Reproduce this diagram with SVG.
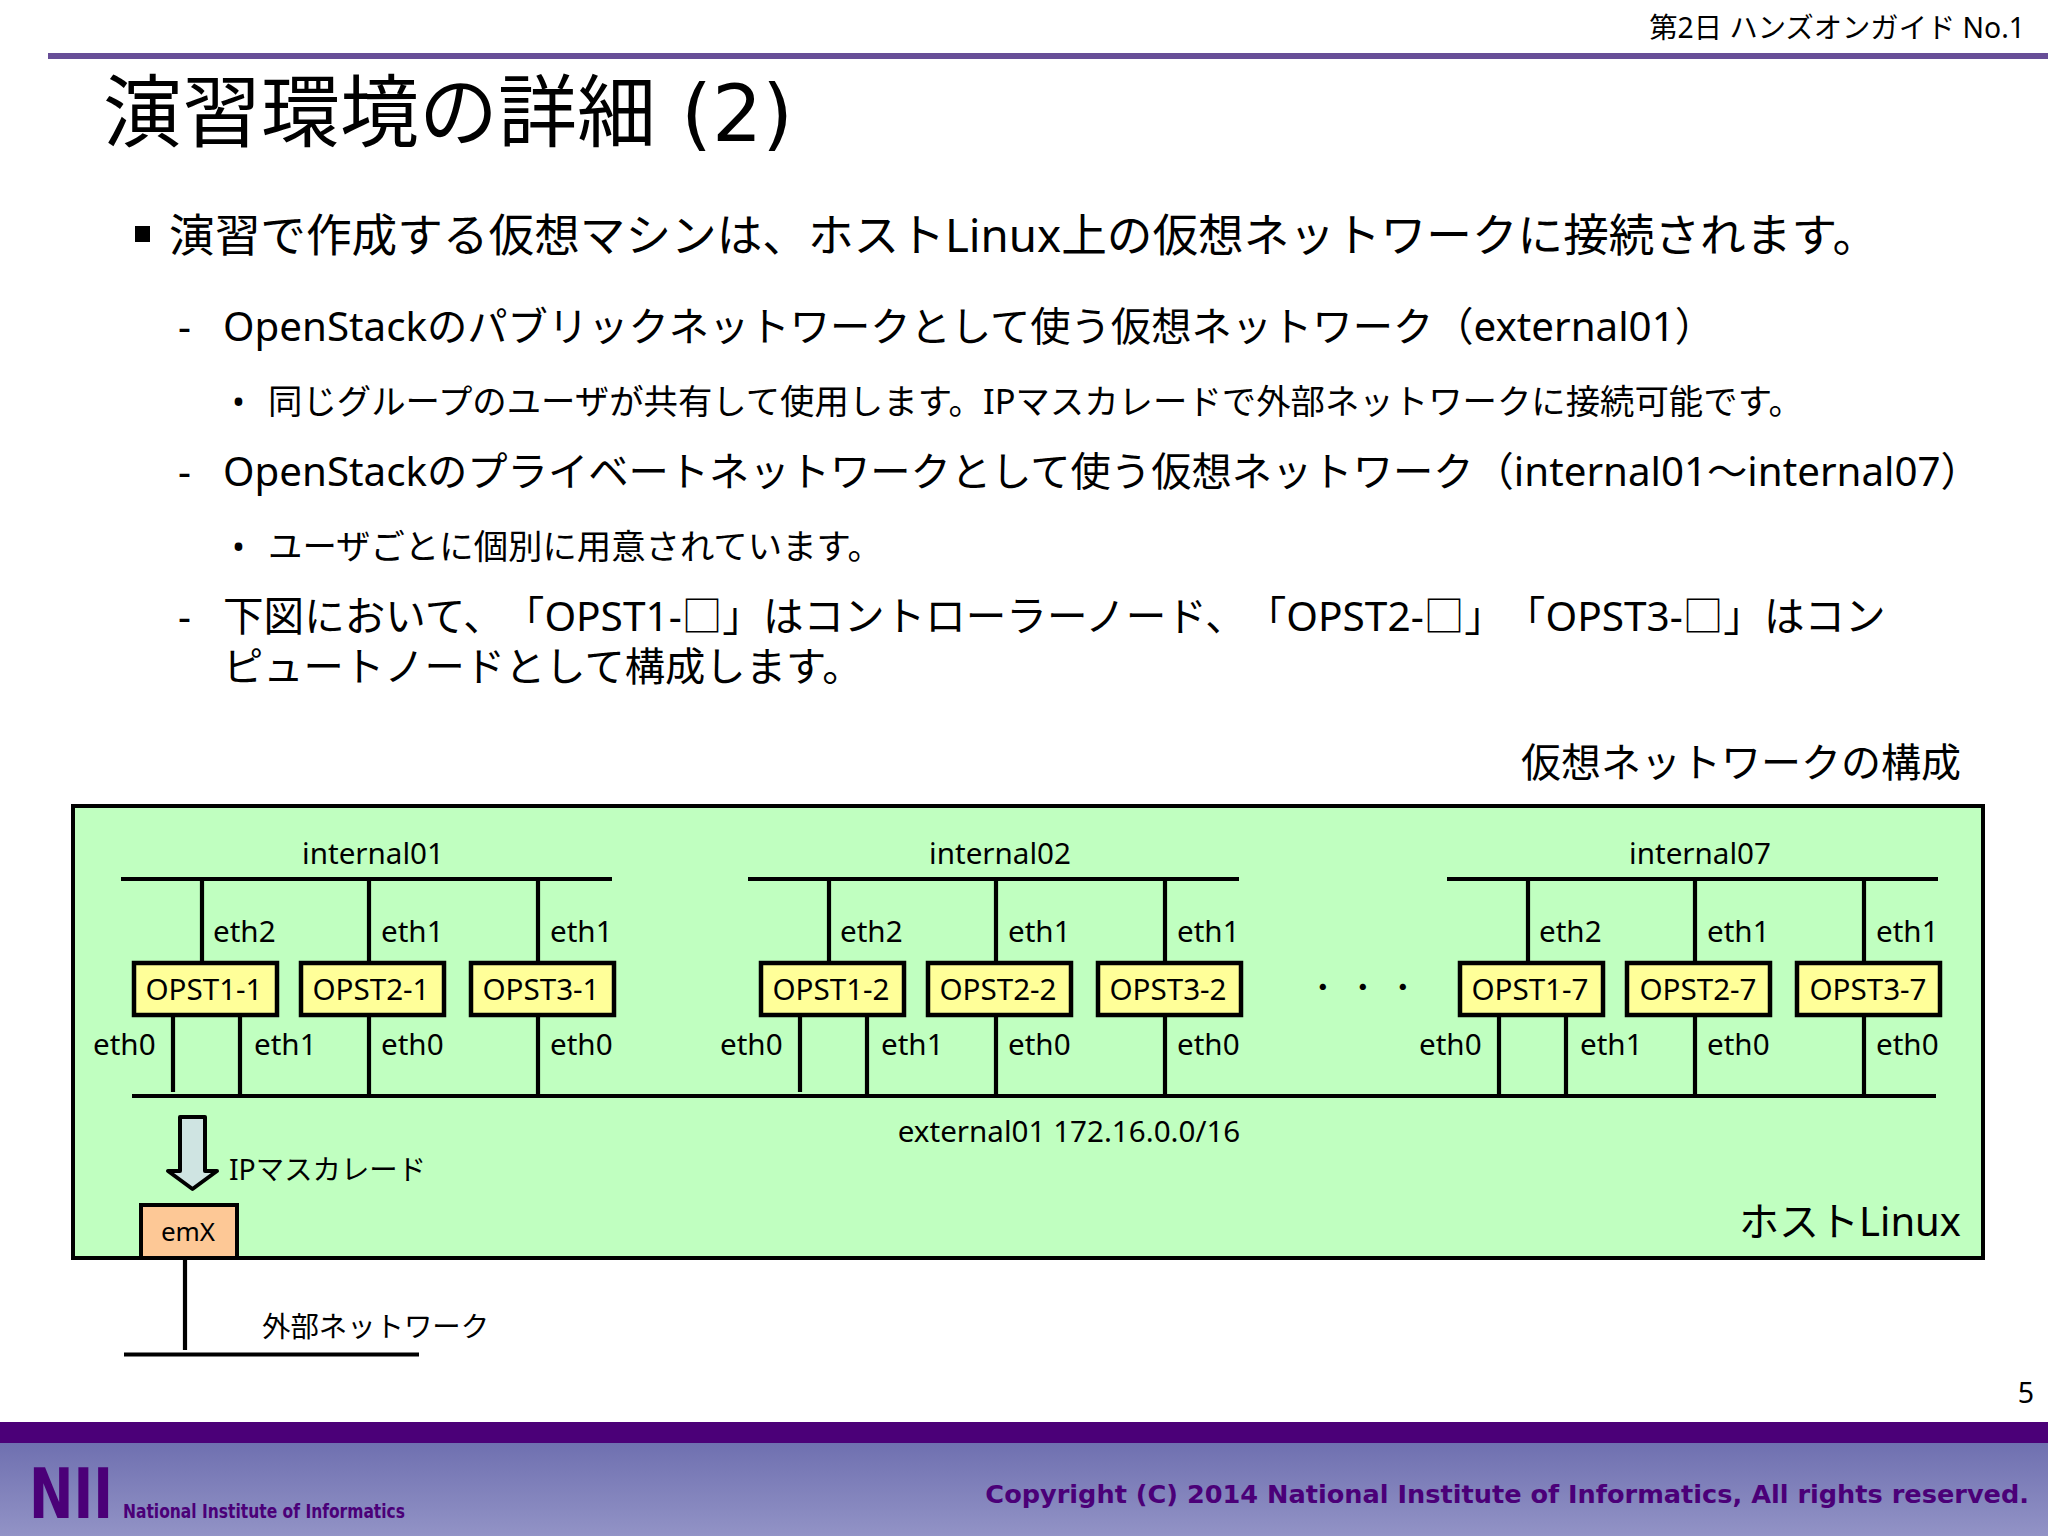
<svg xmlns="http://www.w3.org/2000/svg" width="2048" height="1536" viewBox="0 0 2048 1536">
<style>
text{font-family:"Noto Sans","Noto Sans CJK JP",sans-serif;fill:#000;text-spacing-trim:space-all;font-feature-settings:"chws" 0,"palt" 0}
.l1{font-size:45.65px}.l2{font-size:40.3px}.l3{font-size:34.4px}
.d{font-size:29.6px}.n{font-size:29.6px;text-anchor:middle}.m{text-anchor:middle}
.j{font-size:28.4px}
.box{fill:#ffff99;stroke:#000;stroke-width:4.5}
.ln{stroke:#000;stroke-width:4.2;fill:none}
.brand{font-family:"DejaVu Sans",sans-serif;font-weight:bold;fill:#4b0078}
</style>
<defs><linearGradient id="foot" x1="0" y1="0" x2="0" y2="1"><stop offset="0" stop-color="#6f70b0"/><stop offset="1" stop-color="#9293c6"/></linearGradient></defs>
<rect width="2048" height="1536" fill="#fff"/>
<g id="header">
<rect x="48" y="53" width="2000" height="6" fill="#674e97"/>
<text x="2025" y="38" font-size="28.3" text-anchor="end">第2日 ハンズオンガイド No.1</text>
<text x="103" y="141" font-size="79">演習環境の詳細<tspan font-family="DejaVu Sans"> (2)</tspan></text>
</g>
<g id="body">
<rect x="135" y="226" width="15" height="16" fill="#000"/>
<text class="l1" x="169" y="252">演習で作成する仮想マシンは、ホストLinux上の仮想ネットワークに接続されます。</text>
<text class="l2" x="178" y="341">-</text>
<text class="l2" x="223" y="341">OpenStackのパブリックネットワークとして使う仮想ネットワーク（external01）</text>
<text class="l3" x="232" y="414">•</text>
<text class="l3" x="268" y="414">同じグループのユーザが共有して使用します。IPマスカレードで外部ネットワークに接続可能です。</text>
<text class="l2" x="178" y="486">-</text>
<text class="l2" x="223" y="486">OpenStackのプライベートネットワークとして使う仮想ネットワーク（internal01～internal07）</text>
<text class="l3" x="232" y="559">•</text>
<text class="l3" x="268" y="559">ユーザごとに個別に用意されています。</text>
<text class="l2" x="178" y="631">-</text>
<text x="223" y="631" font-size="40.6">下図において、「OPST1-□」はコントローラーノード、「OPST2-□」「OPST3-□」はコン</text>
<text class="l2" x="223" y="681">ピュートノードとして構成します。</text>
<text x="1961" y="777" font-size="40" text-anchor="end">仮想ネットワークの構成</text>
</g>
<g id="host">
<rect x="73" y="806" width="1910" height="452" fill="#c0ffc0" stroke="#000" stroke-width="4"/>
<text x="1961" y="1236" font-size="40" text-anchor="end">ホストLinux</text>
</g>
<g id="connectors">
<path class="ln" d="M121 879H612M748 879H1239M1447 879H1938M132 1096H1936"/>
<path class="ln" d="M202 879V962M369 879V962M538 879V962M829 879V962M996 879V962M1165 879V962M1528 879V962M1695 879V962M1864 879V962"/>
<path class="ln" d="M173 1017V1092M240 1017V1096M369 1017V1096M538 1017V1096M800 1017V1092M867 1017V1096M996 1017V1096M1165 1017V1096M1499 1017V1096M1566 1017V1096M1695 1017V1096M1864 1017V1096"/>
<path class="ln" d="M185 1258V1350M124 1354.500H419"/>
</g>
<g id="labels" class="d">
<text x="373" y="864" class="m">internal01</text><text x="1000" y="864" class="m">internal02</text><text x="1700" y="864" class="m">internal07</text>
<text x="213" y="942">eth2</text><text x="381" y="942">eth1</text><text x="550" y="942">eth1</text>
<text x="840" y="942">eth2</text><text x="1008" y="942">eth1</text><text x="1177" y="942">eth1</text>
<text x="1539" y="942">eth2</text><text x="1707" y="942">eth1</text><text x="1876" y="942">eth1</text>
<text x="93" y="1055">eth0</text><text x="254" y="1055">eth1</text><text x="381" y="1055">eth0</text><text x="550" y="1055">eth0</text>
<text x="720" y="1055">eth0</text><text x="881" y="1055">eth1</text><text x="1008" y="1055">eth0</text><text x="1177" y="1055">eth0</text>
<text x="1419" y="1055">eth0</text><text x="1580" y="1055">eth1</text><text x="1707" y="1055">eth0</text><text x="1876" y="1055">eth0</text>
<text x="1069" y="1142" class="m">external01 172.16.0.0/16</text>
<text x="229" y="1180" class="j">IPマスカレード</text>
<text x="262" y="1337" class="j">外部ネットワーク</text>
<text x="1308 1348 1388" y="998">・・・</text>
</g>
<g id="OPST1-1"><rect class="box" x="134" y="963" width="143" height="52"/><text class="n" x="204" y="999.500">OPST1-1</text></g>
<g id="OPST2-1"><rect class="box" x="301" y="963" width="143" height="52"/><text class="n" x="371" y="999.500">OPST2-1</text></g>
<g id="OPST3-1"><rect class="box" x="471" y="963" width="143" height="52"/><text class="n" x="541" y="999.500">OPST3-1</text></g>
<g id="OPST1-2"><rect class="box" x="761" y="963" width="143" height="52"/><text class="n" x="831" y="999.500">OPST1-2</text></g>
<g id="OPST2-2"><rect class="box" x="928" y="963" width="143" height="52"/><text class="n" x="998" y="999.500">OPST2-2</text></g>
<g id="OPST3-2"><rect class="box" x="1098" y="963" width="143" height="52"/><text class="n" x="1168" y="999.500">OPST3-2</text></g>
<g id="OPST1-7"><rect class="box" x="1460" y="963" width="143" height="52"/><text class="n" x="1530" y="999.500">OPST1-7</text></g>
<g id="OPST2-7"><rect class="box" x="1627" y="963" width="143" height="52"/><text class="n" x="1698" y="999.500">OPST2-7</text></g>
<g id="OPST3-7"><rect class="box" x="1797" y="963" width="143" height="52"/><text class="n" x="1868" y="999.500">OPST3-7</text></g>
<g id="masquerade"><path d="M180 1117H205V1171H217L192.500 1189L168 1171H180Z" fill="#cfe4e2" stroke="#000" stroke-width="4" stroke-linejoin="round"/></g>
<g id="emX"><rect x="141" y="1205" width="96" height="53" fill="#fdc896" stroke="#000" stroke-width="4"/><text class="m" x="188" y="1241" font-size="26">emX</text></g>
<g id="footer">
<rect y="1422" width="2048" height="21" fill="#4b0078"/>
<rect y="1443" width="2048" height="93" fill="url(#foot)"/>
<text class="brand" x="29" y="1518" font-size="70" textLength="84" lengthAdjust="spacingAndGlyphs">NII</text>
<text class="brand" x="123" y="1518" font-size="19" textLength="282" lengthAdjust="spacingAndGlyphs">National Institute of Informatics</text>
<text class="brand" x="2029" y="1503" font-size="25.6" text-anchor="end">Copyright (C) 2014 National Institute of Informatics, All rights reserved.</text>
<text x="2034" y="1403" font-size="28.6" text-anchor="end">5</text>
</g>
</svg>
